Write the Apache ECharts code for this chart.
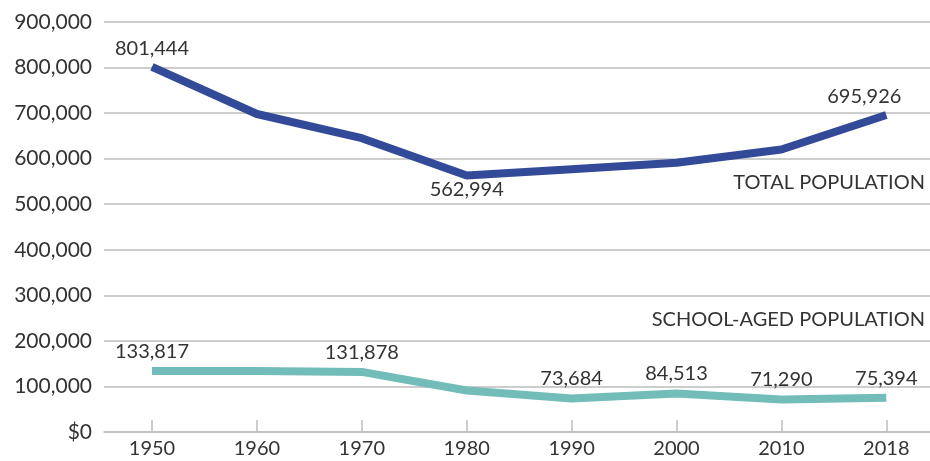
<!DOCTYPE html>
<html lang="en">
<head>
  <meta charset="UTF-8">
  <title>Population</title>
  <script src="https://cdn.jsdelivr.net/npm/echarts@6/dist/echarts.min.js"></script>
  <style>
    * { margin: 0; padding: 0; }
    body { background: #fff; }
    #main { width: 930px; height: 461px; }
  </style>
</head>
<body>
  <div id="main"></div>
  <script>
    // years on the x axis
    var years = ['1950', '1960', '1970', '1980', '1990', '2000', '2010', '2018'];
    // total population per year
    var totalPop = [801444, 698000, 645000, 562994, 577000, 591000, 620000, 695926];
    // school-aged population per year
    var schoolPop = [133817, 134000, 131878, 91000, 73684, 84513, 71290, 75394];
    // which points carry a value label
    var totalLabeled = [0, 3, 7];
    var schoolLabeled = [0, 2, 4, 5, 6, 7];

    var font = 'Lato, "Open Sans", sans-serif';
    var textColor = '#333';

    function fmt(v) {
      return v.toString().replace(/\B(?=(\d{3})+(?!\d))/g, ',');
    }

    function buildData(values, labeled, labelCfg) {
      return values.map(function (v, i) {
        var item = { value: [i, v] };
        if (labeled.indexOf(i) >= 0) {
          item.label = Object.assign({ show: true }, labelCfg(i));
        }
        return item;
      });
    }

    var totalData = buildData(totalPop, totalLabeled, function (i) {
      if (i === 3) return { position: 'bottom', distance: 4 };
      if (i === 7) return { position: 'top', distance: 8, offset: [-22, 0] };
      return { position: 'top', distance: 8 };
    });
    var schoolData = buildData(schoolPop, schoolLabeled, function (i) {
      return { position: 'top', distance: 9 };
    });

    var idx = years.map(function (y, i) { return i; });

    var chart = echarts.init(document.getElementById('main'));
    chart.setOption({
      animation: false,
      grid: { left: 104, right: 0, top: 22, bottom: 29 },
      xAxis: {
        type: 'value',
        min: -0.4576,
        max: 7.4166,
        axisLine: { show: true, lineStyle: { color: '#bdbdbd', width: 1.5 } },
        axisTick: { show: true, inside: true, length: 12, customValues: idx, lineStyle: { color: '#bdbdbd', width: 1.5 } },
        splitLine: { show: false },
        axisLabel: {
          customValues: idx,
          margin: 7,
          fontSize: 20,
          fontFamily: font,
          color: textColor,
          formatter: function (v) { return years[Math.round(v)]; }
        }
      },
      yAxis: {
        type: 'value',
        min: 0,
        max: 900000,
        interval: 100000,
        axisLine: { show: false },
        axisTick: { show: false },
        splitLine: { lineStyle: { color: '#bdbdbd', width: 1.5 } },
        axisLabel: {
          margin: 12,
          fontSize: 21,
          fontFamily: font,
          color: textColor,
          formatter: function (v) { return v === 0 ? '$0' : fmt(v); }
        }
      },
      graphic: [
        {
          type: 'text', right: 5, top: 173,
          style: { text: 'TOTAL POPULATION', fontSize: 20, fontFamily: font, fill: textColor }
        },
        {
          type: 'text', right: 5, top: 310,
          style: { text: 'SCHOOL-AGED POPULATION', fontSize: 20, fontFamily: font, fill: textColor }
        }
      ],
      series: [
        {
          name: 'Total Population',
          type: 'line',
          data: totalData,
          symbol: 'circle',
          symbolSize: 1,
          showSymbol: true,
          itemStyle: { color: 'rgba(0,0,0,0)' },
          lineStyle: { color: '#334a99', width: 8, cap: 'butt' },
          label: {
            fontSize: 20, fontFamily: font, color: textColor, opacity: 1,
            formatter: function (p) { return fmt(p.value[1]); }
          }
        },
        {
          name: 'School-Aged Population',
          type: 'line',
          data: schoolData,
          symbol: 'circle',
          symbolSize: 1,
          showSymbol: true,
          itemStyle: { color: 'rgba(0,0,0,0)' },
          lineStyle: { color: '#72bcb9', width: 8, cap: 'butt' },
          label: {
            fontSize: 20, fontFamily: font, color: textColor, opacity: 1,
            formatter: function (p) { return fmt(p.value[1]); }
          }
        }
      ]
    });
  </script>
</body>
</html>
